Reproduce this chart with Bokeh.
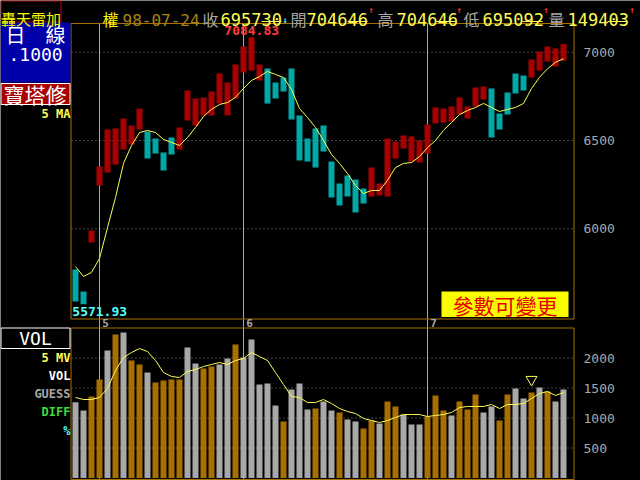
from bokeh.plotting import figure
from bokeh.models import Range1d, Label
from bokeh.core.properties import value
from bokeh.embed import file_html
from bokeh.resources import INLINE

# ---------------- data ----------------
hdr_title = "轟天雷加"
hdr_date = "98-07-24"
hdr_close = "695730"
hdr_open = "704646"
hdr_high = "704646"
hdr_low = "695092"
hdr_vol = "149403"

bar_top = [5770, 5645, 5990, 6353, 6562, 6568, 6625, 6585, 6681, 6551,
           6511, 6432, 6517, 6574, 6783, 6738, 6744, 6778, 6879, 6828,
           6930, 7032, 7085, 6930, 6908, 6828, 6857, 6908, 6642, 6511,
           6568, 6585, 6381, 6257, 6302, 6279, 6228, 6347, 6257, 6511,
           6494, 6528, 6523, 6500, 6591, 6687, 6681, 6693, 6744, 6693,
           6800, 6806, 6795, 6653, 6772, 6879, 6868, 6959, 7004, 7032,
           7021, 7046]
bar_bottom = [5588, 5572, 5922, 6245, 6319, 6364, 6449, 6477, 6562, 6398,
              6426, 6330, 6421, 6449, 6613, 6585, 6642, 6642, 6710, 6642,
              6738, 6885, 6896, 6840, 6710, 6738, 6778, 6619, 6387, 6381,
              6347, 6438, 6177, 6132, 6183, 6092, 6143, 6183, 6189, 6183,
              6398, 6455, 6381, 6375, 6426, 6596, 6602, 6608, 6647, 6625,
              6693, 6732, 6517, 6562, 6647, 6766, 6783, 6857, 6896, 6947,
              6919, 6951]
bar_dir = [-1, -1, 1, 1, 1, 1, 1, 1, 1, -1,
           -1, -1, -1, 1, 1, 1, 1, 1, 1, 1,
           1, 1, 1, 1, -1, -1, -1, -1, -1, -1,
           -1, -1, -1, -1, -1, -1, -1, 1, 1, 1,
           1, 1, 1, 1, 1, 1, 1, 1, 1, 1,
           1, 1, -1, -1, -1, -1, -1, 1, 1, 1,
           1, 1]
ma5 = [5786, 5730, 5753, 5832, 6007, 6177, 6370, 6472, 6545, 6557,
       6545, 6506, 6489, 6472, 6517, 6574, 6636, 6676, 6704, 6715,
       6744, 6795, 6840, 6862, 6891, 6874, 6857, 6789, 6681, 6630,
       6574, 6500, 6421, 6370, 6313, 6245, 6200, 6217, 6217, 6274,
       6347, 6370, 6375, 6409, 6460, 6500, 6557, 6602, 6647, 6670,
       6687, 6710, 6687, 6664, 6676, 6687, 6710, 6794, 6858, 6906,
       6943, 6963]
volume = [1263, 1125, 1358, 1642, 2125, 2392, 2425, 1958, 1892, 1758,
          1592, 1625, 1642, 1642, 2175, 1908, 1825, 1858, 1892, 1992,
          2225, 2008, 2308, 1558, 1575, 1208, 942, 1475, 1575, 1142,
          1158, 1275, 1125, 1092, 975, 942, 825, 958, 908, 1275,
          1192, 1058, 892, 892, 1025, 1375, 1125, 1042, 1275, 1142,
          1392, 1092, 1192, 958, 1392, 1492, 1325, 1425, 1508, 1442,
          1275, 1475]
vol_flag = [0, 0, 1, 1, 0, 1, 0, 1, 1, 0,
            1, 1, 1, 1, 0, 0, 1, 1, 0, 0,
            1, 0, 0, 0, 0, 0, 1, 0, 0, 0,
            1, 0, 0, 1, 0, 0, 1, 1, 0, 1,
            1, 0, 0, 0, 1, 1, 1, 0, 1, 1,
            1, 0, 0, 1, 1, 0, 0, 1, 0, 1,
            0, 0]
mv5 = [1342, 1308, 1308, 1342, 1492, 1792, 2008, 2092, 2158, 2108,
       1958, 1758, 1692, 1675, 1775, 1808, 1858, 1892, 1925, 1892,
       1958, 1992, 2092, 2025, 1958, 1758, 1558, 1358, 1342, 1258,
       1258, 1308, 1242, 1158, 1108, 1075, 992, 958, 925, 958,
       1008, 1058, 1058, 1058, 1025, 1042, 1058, 1092, 1175, 1192,
       1192, 1192, 1225, 1158, 1225, 1225, 1242, 1325, 1408, 1442,
       1375, 1425]
month_idx = [3, 21, 44]
month_lbl = ["5", "6", "7"]
price_ticks = [6000, 6500, 7000]
vol_ticks = [500, 1000, 1500, 2000]
price_high = 7084.83
price_low = 5571.93
guess_idx = 57
guess_vol = 1640

# ---------------- layout helpers (reference-pixel -> data units) ----------------
W, H = 640, 480
MONO = "DejaVu Sans Mono"
CJK = "Noto Sans CJK TC"


def X(xr):
    return (xr - 75.0) / 8.0


def Y(yr):
    return 7292.8 - 5.663 * yr


def V(yr):
    return (477.5 - yr) * 500.0 / 30.0


idx = list(range(len(bar_top)))

p = figure(width=W, height=H, output_backend="svg", toolbar_location=None, tools="",
           x_range=Range1d(X(0), X(640)), y_range=Range1d(Y(480), Y(0)),
           x_axis_location=None, y_axis_location=None, title=None, min_border=0)
p.extra_y_ranges = {"vol": Range1d(V(480), V(0))}
p.background_fill_color = "black"
p.border_fill_color = "black"
p.outline_line_color = None
p.grid.grid_line_color = None

ORANGE = "#a87000"
GREY = "#a8a8a8"
YEL = "#fcfc54"

# grids
p.segment(x0=[X(71)] * len(price_ticks), x1=[X(573)] * len(price_ticks), y0=price_ticks, y1=price_ticks,
          line_color="#8c8c8c", line_dash="1 3", line_width=1)
p.segment(x0=[X(71)] * len(vol_ticks), x1=[X(573)] * len(vol_ticks), y0=vol_ticks, y1=vol_ticks,
          line_color="#8c8c8c", line_dash="1 3", line_width=1, y_range_name="vol")
# month lines
p.segment(x0=month_idx, x1=month_idx, y0=[Y(23)] * 3, y1=[Y(479)] * 3, line_color=GREY, line_width=1)

# tower bars
bar_colors = ["#a80000" if d > 0 else "#00a8a8" for d in bar_dir]
p.vbar(x=idx, width=0.75, top=bar_top, bottom=bar_bottom, fill_color=bar_colors, line_color=None)
p.line(idx, ma5, line_color=YEL, line_width=1)

# volume bars
vcolors = [ORANGE if f else GREY for f in vol_flag]
p.vbar(x=idx, width=0.75, top=volume, bottom=0, fill_color=vcolors, line_color=None, y_range_name="vol")
p.line(idx, mv5, line_color=YEL, line_width=1, y_range_name="vol")
p.scatter(x=[guess_idx], y=[guess_vol], marker="inverted_triangle", size=11, fill_color=None,
          line_color=YEL, line_width=1, y_range_name="vol")

# frames
p.quad(left=[X(70.5)], right=[X(573.5)], top=[Y(23)], bottom=[Y(318.5)], fill_color=None, line_color=ORANGE)
p.quad(left=[X(70.5)], right=[X(573.5)], top=[Y(327.5)], bottom=[Y(479)], fill_color=None, line_color=ORANGE)

# axis tick labels
p.text(x=[X(583)] * len(price_ticks), y=price_ticks, text=[str(t) for t in price_ticks],
       text_font=value(MONO), text_font_size=value("13px"), text_color=GREY,
       text_align="left", text_baseline="middle")
p.text(x=[X(583)] * len(vol_ticks), y=vol_ticks, text=[str(t) for t in vol_ticks],
       text_font=value(MONO), text_font_size=value("13px"), text_color=GREY,
       text_align="left", text_baseline="middle", y_range_name="vol")
p.text(x=[m + 0.35 for m in month_idx], y=[Y(322.8)] * 3, text=month_lbl,
       text_font=value(MONO), text_font_size=value("11px"), text_font_style="bold", text_color=GREY,
       text_align="left", text_baseline="middle")

# hi/low annotations
hi_i = bar_top.index(max(bar_top))
lo_i = bar_bottom.index(min(bar_bottom))
p.add_layout(Label(x=hi_i - 3.4, y=price_high + 37, text=f"{price_high:.2f}", text_color="#fc3c3c",
                   text_font=MONO, text_font_size="13px", text_font_style="bold",
                   text_align="left", text_baseline="middle"))
p.add_layout(Label(x=lo_i - 1.4, y=price_low - 40, text=f"{price_low:.2f}", text_color="#54fcfc",
                   text_font=MONO, text_font_size="13px", text_font_style="bold",
                   text_align="left", text_baseline="middle"))


def box(x0, x1, y0, y1, fill, line=None):
    p.quad(left=[X(x0)], right=[X(x1)], top=[Y(y0)], bottom=[Y(y1)], fill_color=fill, line_color=line)


def lab(text, xr, yr, color, size, font=MONO, align="left", style="normal", baseline="middle"):
    p.add_layout(Label(x=X(xr), y=Y(yr), text=text, text_color=color, text_font=font,
                       text_font_size=f"{size}px", text_align=align, text_baseline=baseline,
                       text_font_style=style))


# header
AB = "alphabetic"
box(0.5, 60.5, 0.5, 21.5, None, "#c00000")
lab(hdr_title, 0.5, 18, "#fcfc00", 15, CJK, baseline=AB)
lab("權", 102, 18.5, "#fcfc00", 16, CJK, baseline=AB)
lab(hdr_date, 122, 19, "#a88410", 16, baseline=AB)
lab("收", 202, 18.5, GREY, 16, CJK, baseline=AB)
lab(hdr_close, 220, 19, YEL, 17, baseline=AB)
lab("↓", 282, 19, "#54fcfc", 9, MONO, style="bold", baseline=AB)
lab("開", 290, 18.5, GREY, 16, CJK, baseline=AB)
lab(hdr_open, 306, 19, YEL, 17, baseline=AB)
lab("↑", 368, 9, "#fc3030", 9, MONO, style="bold", baseline=AB)
lab("高", 377, 18.5, GREY, 16, CJK, baseline=AB)
lab(hdr_high, 396, 19, YEL, 17, baseline=AB)
lab("↑", 456, 9, "#fc3030", 9, MONO, style="bold", baseline=AB)
lab("低", 463, 18.5, GREY, 16, CJK, baseline=AB)
lab(hdr_low, 482, 19, YEL, 17, baseline=AB)
lab("↑", 543, 9, "#fc3030", 9, MONO, style="bold", baseline=AB)
lab("量", 548, 18.5, GREY, 16, CJK, baseline=AB)
lab(hdr_vol, 567, 19, YEL, 17, baseline=AB)
lab("↑", 629, 9, "#fc3030", 9, MONO, style="bold", baseline=AB)
# underlines under the last two digits
for s in [261, 347, 435, 522, 607]:
    p.segment(x0=[X(s)], x1=[X(s + 20)], y0=[Y(21)], y1=[Y(21)], line_color=YEL, line_width=1)

# left panel (price)
box(0, 70, 22, 82, "#0000a8")
lab("日", 5, 34, "white", 20, CJK)
lab("線", 45, 34, "white", 20, CJK)
lab(".1000", 8, 54, "white", 18)
box(0.5, 69.5, 83, 104, "#a80000", "white")
lab("寶塔修", 3, 93.5, "white", 21, CJK)
lab("5 MA", 70, 113, YEL, 12, align="right", style="bold")

# left panel (volume)
box(0.5, 69.5, 327.5, 348, "black", "white")
lab("VOL", 35, 338, "white", 18, align="center")
lab("5 MV", 70, 357.5, YEL, 12, align="right", style="bold")
lab("VOL", 70, 375, "white", 12, align="right", style="bold")
lab("GUESS", 70, 393, GREY, 12, align="right", style="bold")
lab("DIFF", 70, 411, "#3cdc3c", 12, align="right", style="bold")
lab("%", 70, 430, "#54fcfc", 12, align="right", style="bold")

# parameter box
box(441, 568, 291, 316.5, "#fcfc00")
lab("參數可變更", 504.5, 304, "#e80000", 21, CJK, align="center")

open("out.html", "w").write(file_html(p, INLINE))
